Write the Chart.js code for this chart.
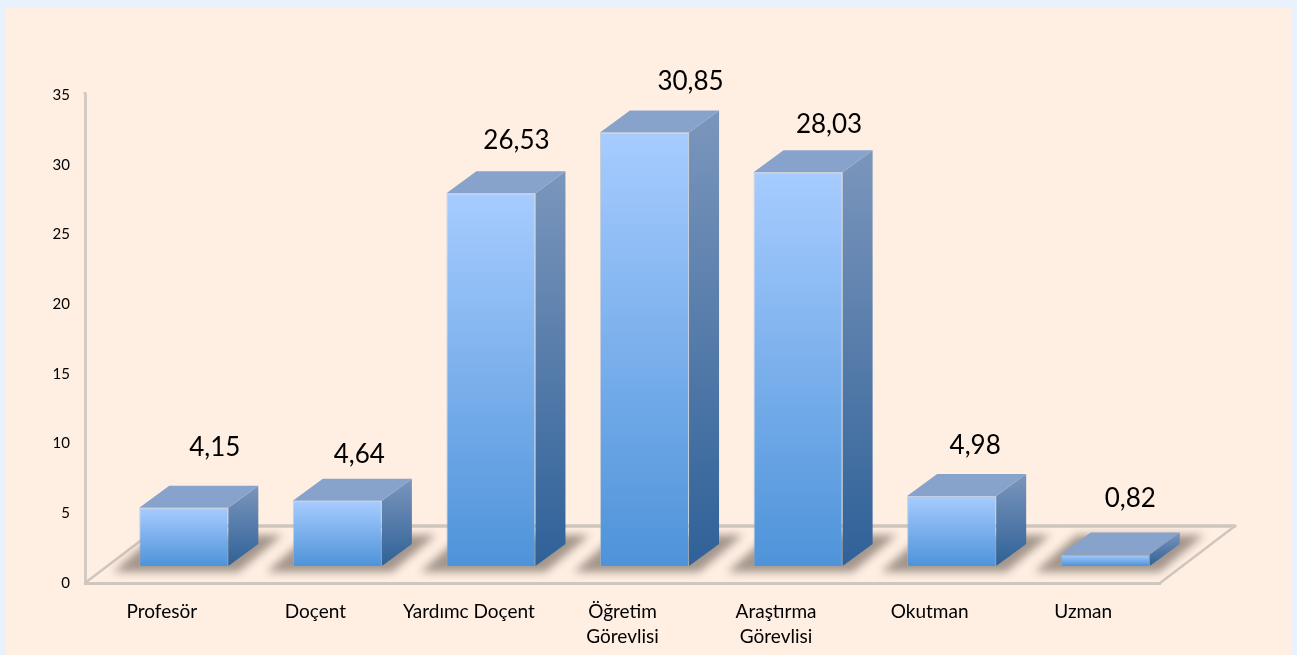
<!DOCTYPE html>
<html><head><meta charset="utf-8">
<style>
html,body{margin:0;padding:0;width:1297px;height:655px;overflow:hidden;background:#e8f1fc}
#panel{position:absolute;left:6px;top:8px;width:1286px;height:647px;background:#ffeee2}
#wrap{position:absolute;left:0;top:0;width:1297px;height:655px}
</style>
<script src="https://cdn.jsdelivr.net/npm/chart.js@4"></script>
</head><body>
<div id="panel"></div>
<div id="wrap"><canvas id="c" width="1297" height="655"></canvas></div>
<script>
const categories = ["Profesör","Doçent","Yardımc Doçent",["Öğretim","Görevlisi"],["Araştırma","Görevlisi"],"Okutman","Uzman"];
const values = [4.15,4.64,26.53,30.85,28.03,4.98,0.82];
const valueTexts = ["4,15","4,64","26,53","30,85","28,03","4,98","0,82"];
const yTicks = [0,5,10,15,20,25,30,35];

// layout of the pseudo-3D look
const FONT = "Lato, Carlito, sans-serif";
const depth = {x:30, y:-22};
const floorDepth = {x:75, y:-57};
const barShiftX = 22;
const labelNudgeX = [31,22,25.5,46,31,23.5,25];
const labelNudgeY = [-60,-46,-53,-51,-48,-50,-56];

function poly(ctx, pts, fill){
  ctx.beginPath();
  pts.forEach((p,i)=> i?ctx.lineTo(p[0],p[1]):ctx.moveTo(p[0],p[1]));
  ctx.closePath();
  ctx.fillStyle = fill; ctx.fill();
}
const pseudo3d = {
  id:'pseudo3d',
  beforeDatasetsDraw(chart){
    const {ctx, chartArea:a} = chart;
    const bars = chart.getDatasetMeta(0).data;
    // short run of the value axis above its top tick
    ctx.save();
    ctx.strokeStyle = '#d3cbc3'; ctx.lineWidth = 3;
    ctx.beginPath(); ctx.moveTo(a.left, a.top); ctx.lineTo(a.left, a.top-3); ctx.stroke();
    // floor outline
    ctx.strokeStyle = '#cfc6bd'; ctx.lineWidth = 2.5; ctx.lineCap='round';
    ctx.beginPath();
    ctx.moveTo(a.left, a.bottom);
    ctx.lineTo(a.left+floorDepth.x, a.bottom+floorDepth.y);
    ctx.stroke();
    ctx.beginPath();
    ctx.moveTo(a.right, a.bottom);
    ctx.lineTo(a.right+floorDepth.x, a.bottom+floorDepth.y);
    ctx.stroke();
    ctx.lineWidth = 3.5;
    ctx.beginPath();
    ctx.moveTo(a.left+floorDepth.x, a.bottom+floorDepth.y);
    ctx.lineTo(a.right+floorDepth.x, a.bottom+floorDepth.y);
    ctx.stroke();
    ctx.restore();
    // soft floor shadows
    ctx.save();
    ctx.filter = 'blur(4px)';
    bars.forEach(b=>{
      const l = b.x+barShiftX-b.width/2, r = b.x+barShiftX+b.width/2, f = b.base+6;
      poly(ctx, [[l-26,f],[r+10,f],[r+54,f-37],[l+16,f-37]], '#a3958b');
    });
    ctx.restore();
    // top and side faces, then the library's bars as front faces
    ctx.save();
    ctx.translate(barShiftX,0);
    bars.forEach(b=>{
      const l = b.x-b.width/2, r = b.x+b.width/2, t = b.y, g = b.base;
      const side = ctx.createLinearGradient(0,t+depth.y,0,g);
      side.addColorStop(0,'#7b96bc'); side.addColorStop(1,'#2f6198');
      poly(ctx,[[r,t],[r+depth.x,t+depth.y],[r+depth.x,g+depth.y],[r,g]],side);
      poly(ctx,[[l,t],[l+depth.x,t+depth.y],[r+depth.x,t+depth.y],[r,t]],'#87a3cc');
      const front = ctx.createLinearGradient(0,t,0,g);
      front.addColorStop(0,'#a7ccff'); front.addColorStop(1,'#4e93d9');
      b.options = Object.assign({}, b.options, {backgroundColor:front});
    });
  },
  afterDatasetsDraw(chart){
    const {ctx} = chart;
    ctx.restore();
    const bars = chart.getDatasetMeta(0).data;
    ctx.save();
    ctx.font = '26px '+FONT; ctx.fillStyle='#000';
    ctx.textAlign='center'; ctx.textBaseline='middle';
    bars.forEach((b,i)=>{
      ctx.fillText(valueTexts[i], b.x+barShiftX+labelNudgeX[i], b.y+labelNudgeY[i]);
    });
    ctx.restore();
  }
};

new Chart(document.getElementById('c'),{
  type:'bar',
  data:{labels:categories,datasets:[{
    data:values,
    yAxisID:'y2',
    clip:false,
    barPercentage:0.58,
    categoryPercentage:1,
    borderWidth:1,
    borderColor:'rgba(150,180,215,0.55)',
    backgroundColor:'#6fa8e8'
  }]},
  plugins:[pseudo3d],
  options:{
    responsive:false,animation:false,
    layout:{padding:{left:0,right:137,top:95,bottom:0}},
    plugins:{legend:{display:false},tooltip:{enabled:false}},
    scales:{
      x:{
        grid:{display:false,drawTicks:false},
        border:{display:true,color:'#cfc6bd',width:3},
        ticks:{autoSkip:false,maxRotation:0,minRotation:0,padding:16,color:'#000',font:{family:FONT,size:19,lineHeight:1.32}},
        afterFit(s){s.height=72;}
      },
      y:{
        min:0,max:35,
        afterBuildTicks(s){s.ticks=yTicks.map(v=>({value:v}));},
        grid:{display:false,drawTicks:false},
        border:{display:true,color:'#d3cbc3',width:3},
        ticks:{padding:15,color:'#000',font:{family:FONT,size:15}},
        afterFit(s){s.width=85;}
      },
      y2:{display:false,min:-1.21,max:33.52}
    }
  }
});
</script>
</body></html>
